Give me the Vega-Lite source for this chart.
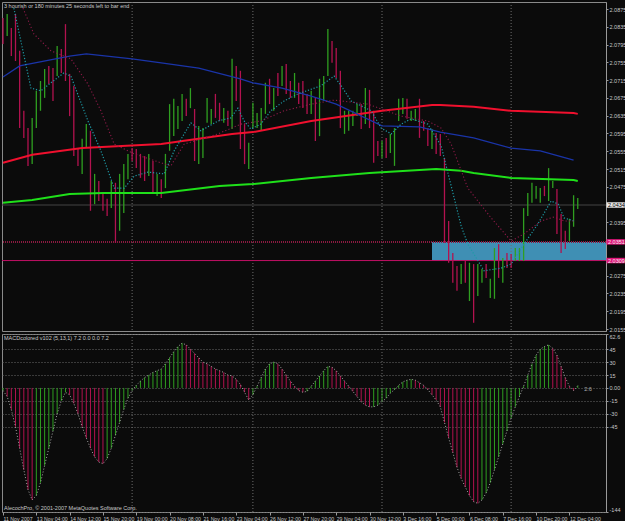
{
"$schema": "https://vega.github.io/schema/vega-lite/v6.json",
"background": "#0b0b0b",
"padding": 1,
"autosize": {"type": "pad"},
"spacing": 3,
"bounds": "flush",
"config": {
  "view": {"stroke": "#8a8a8a", "strokeWidth": 1},
  "axis": {"labelOverlap": false, "labelSeparation": 0}
},
"datasets": {
  "one": [{}],
  "bars": [
{"i":0,"h":2.0855,"l":2.0796,"u":0},{"i":1,"h":2.0864,"l":2.0814,"u":1},{"i":2,"h":2.0832,"l":2.0769,"u":0},{"i":3,"h":2.0864,"l":2.0758,"u":0},{"i":4,"h":2.0781,"l":2.0607,"u":0},{"i":5,"h":2.0646,"l":2.0585,"u":0},{"i":6,"h":2.0607,"l":2.0522,"u":0},{"i":7,"h":2.0630,"l":2.0526,"u":1},{"i":8,"h":2.0691,"l":2.0607,"u":1},{"i":9,"h":2.0713,"l":2.0646,"u":1},
{"i":10,"h":2.0740,"l":2.0675,"u":1},{"i":11,"h":2.0747,"l":2.0706,"u":0},{"i":12,"h":2.0742,"l":2.0668,"u":0},{"i":13,"h":2.0792,"l":2.0724,"u":1},{"i":14,"h":2.0785,"l":2.0731,"u":0},{"i":15,"h":2.0841,"l":2.0713,"u":0},{"i":16,"h":2.0729,"l":2.0634,"u":0},{"i":17,"h":2.0702,"l":2.0544,"u":0},{"i":18,"h":2.0562,"l":2.0522,"u":0},{"i":19,"h":2.0583,"l":2.0504,"u":1},
{"i":20,"h":2.0616,"l":2.0562,"u":1},{"i":21,"h":2.0601,"l":2.0421,"u":0},{"i":22,"h":2.0504,"l":2.0436,"u":1},{"i":23,"h":2.0488,"l":2.0443,"u":0},{"i":24,"h":2.0459,"l":2.0421,"u":0},{"i":25,"h":2.0448,"l":2.0409,"u":0},{"i":26,"h":2.0488,"l":2.0427,"u":1},{"i":27,"h":2.0484,"l":2.0349,"u":0},{"i":28,"h":2.0504,"l":2.0376,"u":1},{"i":29,"h":2.0526,"l":2.0416,"u":1},
{"i":30,"h":2.0549,"l":2.0492,"u":1},{"i":31,"h":2.0562,"l":2.0533,"u":0},{"i":32,"h":2.0560,"l":2.0517,"u":0},{"i":33,"h":2.0549,"l":2.0495,"u":0},{"i":34,"h":2.0544,"l":2.0488,"u":0},{"i":35,"h":2.0549,"l":2.0499,"u":1},{"i":36,"h":2.0533,"l":2.0459,"u":0},{"i":37,"h":2.0504,"l":2.0454,"u":1},{"i":38,"h":2.0492,"l":2.0450,"u":0},{"i":39,"h":2.0549,"l":2.0472,"u":1},
{"i":40,"h":2.0661,"l":2.0556,"u":1},{"i":41,"h":2.0673,"l":2.0589,"u":1},{"i":42,"h":2.0657,"l":2.0605,"u":1},{"i":43,"h":2.0684,"l":2.0623,"u":1},{"i":44,"h":2.0673,"l":2.0634,"u":0},{"i":45,"h":2.0697,"l":2.0652,"u":1},{"i":46,"h":2.0650,"l":2.0533,"u":0},{"i":47,"h":2.0612,"l":2.0526,"u":1},{"i":48,"h":2.0607,"l":2.0540,"u":1},{"i":49,"h":2.0675,"l":2.0619,"u":1},
{"i":50,"h":2.0650,"l":2.0616,"u":1},{"i":51,"h":2.0684,"l":2.0630,"u":0},{"i":52,"h":2.0664,"l":2.0623,"u":0},{"i":53,"h":2.0652,"l":2.0619,"u":1},{"i":54,"h":2.0646,"l":2.0612,"u":0},{"i":55,"h":2.0763,"l":2.0605,"u":1},{"i":56,"h":2.0747,"l":2.0668,"u":0},{"i":57,"h":2.0736,"l":2.0560,"u":0},{"i":58,"h":2.0616,"l":2.0526,"u":0},{"i":59,"h":2.0574,"l":2.0515,"u":1},
{"i":60,"h":2.0664,"l":2.0607,"u":1},{"i":61,"h":2.0641,"l":2.0607,"u":1},{"i":62,"h":2.0652,"l":2.0601,"u":1},{"i":63,"h":2.0709,"l":2.0639,"u":1},{"i":64,"h":2.0718,"l":2.0661,"u":0},{"i":65,"h":2.0697,"l":2.0646,"u":1},{"i":66,"h":2.0731,"l":2.0679,"u":0},{"i":67,"h":2.0747,"l":2.0702,"u":1},{"i":68,"h":2.0751,"l":2.0684,"u":0},{"i":69,"h":2.0713,"l":2.0675,"u":0},
{"i":70,"h":2.0731,"l":2.0675,"u":1},{"i":71,"h":2.0709,"l":2.0661,"u":0},{"i":72,"h":2.0713,"l":2.0652,"u":0},{"i":73,"h":2.0684,"l":2.0639,"u":0},{"i":74,"h":2.0691,"l":2.0639,"u":1},{"i":75,"h":2.0675,"l":2.0578,"u":0},{"i":76,"h":2.0718,"l":2.0589,"u":1},{"i":77,"h":2.0724,"l":2.0668,"u":1},{"i":78,"h":2.0830,"l":2.0724,"u":1},{"i":79,"h":2.0803,"l":2.0754,"u":0},
{"i":80,"h":2.0787,"l":2.0720,"u":0},{"i":81,"h":2.0736,"l":2.0607,"u":0},{"i":82,"h":2.0646,"l":2.0594,"u":1},{"i":83,"h":2.0646,"l":2.0601,"u":1},{"i":84,"h":2.0646,"l":2.0612,"u":1},{"i":85,"h":2.0661,"l":2.0634,"u":1},{"i":86,"h":2.0661,"l":2.0605,"u":0},{"i":87,"h":2.0697,"l":2.0616,"u":1},{"i":88,"h":2.0693,"l":2.0607,"u":0},{"i":89,"h":2.0646,"l":2.0529,"u":0},
{"i":90,"h":2.0578,"l":2.0544,"u":0},{"i":91,"h":2.0578,"l":2.0540,"u":1},{"i":92,"h":2.0585,"l":2.0540,"u":0},{"i":93,"h":2.0594,"l":2.0551,"u":1},{"i":94,"h":2.0607,"l":2.0522,"u":1},{"i":95,"h":2.0673,"l":2.0623,"u":1},{"i":96,"h":2.0675,"l":2.0639,"u":1},{"i":97,"h":2.0673,"l":2.0628,"u":0},{"i":98,"h":2.0646,"l":2.0623,"u":1},{"i":99,"h":2.0650,"l":2.0623,"u":1},
{"i":100,"h":2.0673,"l":2.0585,"u":0},{"i":101,"h":2.0623,"l":2.0601,"u":0},{"i":102,"h":2.0607,"l":2.0567,"u":0},{"i":103,"h":2.0605,"l":2.0560,"u":1},{"i":104,"h":2.0596,"l":2.0549,"u":0},{"i":105,"h":2.0594,"l":2.0544,"u":0},{"i":106,"h":2.0540,"l":2.0349,"u":0},{"i":107,"h":2.0398,"l":2.0304,"u":0},{"i":108,"h":2.0326,"l":2.0259,"u":0},{"i":109,"h":2.0297,"l":2.0241,"u":0},
{"i":110,"h":2.0301,"l":2.0256,"u":1},{"i":111,"h":2.0308,"l":2.0259,"u":0},{"i":112,"h":2.0304,"l":2.0218,"u":1},{"i":113,"h":2.0301,"l":2.0169,"u":0},{"i":114,"h":2.0301,"l":2.0229,"u":1},{"i":115,"h":2.0290,"l":2.0259,"u":1},{"i":116,"h":2.0301,"l":2.0270,"u":0},{"i":117,"h":2.0268,"l":2.0225,"u":1},{"i":118,"h":2.0337,"l":2.0223,"u":1},{"i":119,"h":2.0346,"l":2.0270,"u":0},
{"i":120,"h":2.0315,"l":2.0259,"u":1},{"i":121,"h":2.0326,"l":2.0292,"u":0},{"i":122,"h":2.0324,"l":2.0292,"u":0},{"i":123,"h":2.0337,"l":2.0308,"u":1},{"i":124,"h":2.0337,"l":2.0308,"u":1},{"i":125,"h":2.0427,"l":2.0308,"u":1},{"i":126,"h":2.0461,"l":2.0409,"u":1},{"i":127,"h":2.0484,"l":2.0439,"u":1},{"i":128,"h":2.0477,"l":2.0448,"u":1},{"i":129,"h":2.0472,"l":2.0439,"u":1},
{"i":130,"h":2.0477,"l":2.0454,"u":0},{"i":131,"h":2.0517,"l":2.0443,"u":1},{"i":132,"h":2.0488,"l":2.0472,"u":1},{"i":133,"h":2.0470,"l":2.0369,"u":0},{"i":134,"h":2.0414,"l":2.0326,"u":0},{"i":135,"h":2.0376,"l":2.0335,"u":0},{"i":136,"h":2.0403,"l":2.0353,"u":1},{"i":137,"h":2.0456,"l":2.0385,"u":1},{"i":138,"h":2.0450,"l":2.0425,"u":1}
  ],
  "ma": [
{"s":"red","i":0,"p":2.0529},{"s":"red","i":7,"p":2.0547},{"s":"red","i":19,"p":2.0562},{"s":"red","i":38,"p":2.0571},{"s":"red","i":55,"p":2.0594},{"s":"red","i":60,"p":2.0598},{"s":"red","i":74,"p":2.0623},{"s":"red","i":79,"p":2.0630},{"s":"red","i":91,"p":2.0646},{"s":"red","i":103,"p":2.0659},{"s":"red","i":105,"p":2.0659},{"s":"red","i":113,"p":2.0655},{"s":"red","i":122,"p":2.0646},{"s":"red","i":137,"p":2.0641},{"s":"red","i":138,"p":2.0639},
{"s":"blue","i":0,"p":2.0722},{"s":"blue","i":4,"p":2.0747},{"s":"blue","i":16,"p":2.0769},{"s":"blue","i":20,"p":2.0774},{"s":"blue","i":31,"p":2.0763},{"s":"blue","i":38,"p":2.0754},{"s":"blue","i":47,"p":2.0742},{"s":"blue","i":57,"p":2.0718},{"s":"blue","i":60,"p":2.0709},{"s":"blue","i":67,"p":2.0697},{"s":"blue","i":74,"p":2.0679},{"s":"blue","i":80,"p":2.0661},{"s":"blue","i":91,"p":2.0612},{"s":"blue","i":100,"p":2.0610},{"s":"blue","i":105,"p":2.0598},{"s":"blue","i":113,"p":2.0585},{"s":"blue","i":122,"p":2.0562},{"s":"blue","i":129,"p":2.0556},{"s":"blue","i":137,"p":2.0535},
{"s":"green","i":0,"p":2.0439},{"s":"green","i":7,"p":2.0445},{"s":"green","i":16,"p":2.0459},{"s":"green","i":24,"p":2.0461},{"s":"green","i":38,"p":2.0461},{"s":"green","i":52,"p":2.0477},{"s":"green","i":60,"p":2.0481},{"s":"green","i":74,"p":2.0495},{"s":"green","i":88,"p":2.0506},{"s":"green","i":104,"p":2.0515},{"s":"green","i":110,"p":2.0511},{"s":"green","i":113,"p":2.0506},{"s":"green","i":122,"p":2.0495},{"s":"green","i":137,"p":2.0490},{"s":"green","i":138,"p":2.0488},
{"s":"teal","i":2.6,"p":2.0877},{"s":"teal","i":6.7,"p":2.0697},{"s":"teal","i":9.1,"p":2.0691},{"s":"teal","i":11.5,"p":2.0709},{"s":"teal","i":14.6,"p":2.0731},{"s":"teal","i":16.3,"p":2.0724},{"s":"teal","i":20.4,"p":2.0623},{"s":"teal","i":23.5,"p":2.0556},{"s":"teal","i":26.7,"p":2.0472},{"s":"teal","i":29.1,"p":2.0472},{"s":"teal","i":31.5,"p":2.0499},{"s":"teal","i":34.8,"p":2.0508},{"s":"teal","i":38.7,"p":2.0504},{"s":"teal","i":41.1,"p":2.0556},{"s":"teal","i":45.1,"p":2.0619},{"s":"teal","i":47.5,"p":2.0601},{"s":"teal","i":51.6,"p":2.0623},{"s":"teal","i":54.7,"p":2.0630},{"s":"teal","i":56.4,"p":2.0652},{"s":"teal","i":57.9,"p":2.0623},{"s":"teal","i":59.5,"p":2.0605},{"s":"teal","i":61.9,"p":2.0616},{"s":"teal","i":64.3,"p":2.0646},{"s":"teal","i":67.5,"p":2.0668},{"s":"teal","i":70.8,"p":2.0684},{"s":"teal","i":76.3,"p":2.0702},{"s":"teal","i":79.5,"p":2.0724},{"s":"teal","i":81.2,"p":2.0702},{"s":"teal","i":83.6,"p":2.0668},{"s":"teal","i":88.4,"p":2.0646},{"s":"teal","i":90.8,"p":2.0607},{"s":"teal","i":93.2,"p":2.0594},{"s":"teal","i":95.6,"p":2.0616},{"s":"teal","i":98,"p":2.0628},{"s":"teal","i":102,"p":2.0616},{"s":"teal","i":105.2,"p":2.0567},{"s":"teal","i":107.6,"p":2.0477},{"s":"teal","i":110,"p":2.0387},{"s":"teal","i":111.6,"p":2.0346},{"s":"teal","i":115.5,"p":2.0286},{"s":"teal","i":119.6,"p":2.0292},{"s":"teal","i":122,"p":2.0301},{"s":"teal","i":125.1,"p":2.0346},{"s":"teal","i":128.4,"p":2.0391},{"s":"teal","i":131.6,"p":2.0443},{"s":"teal","i":133.3,"p":2.0436},{"s":"teal","i":134.7,"p":2.0405},{"s":"teal","i":137.1,"p":2.0398},
{"s":"maroon","i":4.8,"p":2.0877},{"s":"maroon","i":7.4,"p":2.0819},{"s":"maroon","i":11.5,"p":2.0781},{"s":"maroon","i":16.3,"p":2.0763},{"s":"maroon","i":20.4,"p":2.0706},{"s":"maroon","i":23.5,"p":2.0646},{"s":"maroon","i":26.7,"p":2.0571},{"s":"maroon","i":31.5,"p":2.0549},{"s":"maroon","i":37.9,"p":2.0529},{"s":"maroon","i":40.3,"p":2.0522},{"s":"maroon","i":43.5,"p":2.0571},{"s":"maroon","i":51.6,"p":2.0594},{"s":"maroon","i":57.1,"p":2.0616},{"s":"maroon","i":61.9,"p":2.0623},{"s":"maroon","i":67.5,"p":2.0646},{"s":"maroon","i":74,"p":2.0661},{"s":"maroon","i":79.5,"p":2.0670},{"s":"maroon","i":87.6,"p":2.0661},{"s":"maroon","i":95.6,"p":2.0634},{"s":"maroon","i":102,"p":2.0623},{"s":"maroon","i":105.2,"p":2.0607},{"s":"maroon","i":107.6,"p":2.0571},{"s":"maroon","i":111.6,"p":2.0472},{"s":"maroon","i":117.2,"p":2.0405},{"s":"maroon","i":122,"p":2.0353},{"s":"maroon","i":125.1,"p":2.0369},{"s":"maroon","i":129.2,"p":2.0398},{"s":"maroon","i":132.3,"p":2.0407},{"s":"maroon","i":134.7,"p":2.0398},{"s":"maroon","i":137.1,"p":2.0398}
  ],
  "macd": [
{"i":0,"v":-3},{"i":1,"v":-10},{"i":2,"v":-25},{"i":3,"v":-45},{"i":4,"v":-70},{"i":5,"v":-95},{"i":6,"v":-118},{"i":7,"v":-130},{"i":8,"v":-125},{"i":9,"v":-110},{"i":10,"v":-90},{"i":11,"v":-70},{"i":12,"v":-50},{"i":13,"v":-30},{"i":14,"v":-15},{"i":15,"v":-5},
{"i":16,"v":-8},{"i":17,"v":-18},{"i":18,"v":-30},{"i":19,"v":-45},{"i":20,"v":-58},{"i":21,"v":-70},{"i":22,"v":-80},{"i":23,"v":-86},{"i":24,"v":-88},{"i":25,"v":-82},{"i":26,"v":-70},{"i":27,"v":-55},{"i":28,"v":-40},{"i":29,"v":-25},{"i":30,"v":-12},{"i":31,"v":-3},
{"i":32,"v":3},{"i":33,"v":8},{"i":34,"v":12},{"i":35,"v":15},{"i":36,"v":18},{"i":37,"v":20},{"i":38,"v":22},{"i":39,"v":28},{"i":40,"v":35},{"i":41,"v":42},{"i":42,"v":48},{"i":43,"v":52},{"i":44,"v":50},{"i":45,"v":45},{"i":46,"v":40},{"i":47,"v":35},{"i":48,"v":30},{"i":49,"v":28},{"i":50,"v":25},{"i":51,"v":22},{"i":52,"v":20},{"i":53,"v":18},{"i":54,"v":15},{"i":55,"v":14},{"i":56,"v":10},{"i":57,"v":4},{"i":58,"v":-5},{"i":59,"v":-14},{"i":60,"v":-8},
{"i":61,"v":2},{"i":62,"v":12},{"i":63,"v":22},{"i":64,"v":28},{"i":65,"v":30},{"i":66,"v":28},{"i":67,"v":22},{"i":68,"v":15},{"i":69,"v":8},{"i":70,"v":2},{"i":71,"v":-3},{"i":72,"v":-5},{"i":73,"v":-4},{"i":74,"v":2},{"i":75,"v":8},{"i":76,"v":14},{"i":77,"v":20},{"i":78,"v":25},{"i":79,"v":24},{"i":80,"v":20},
{"i":81,"v":14},{"i":82,"v":8},{"i":83,"v":2},{"i":84,"v":-4},{"i":85,"v":-10},{"i":86,"v":-16},{"i":87,"v":-20},{"i":88,"v":-22},{"i":89,"v":-22},{"i":90,"v":-20},{"i":91,"v":-16},{"i":92,"v":-12},{"i":93,"v":-6},{"i":94,"v":-2},{"i":95,"v":3},{"i":96,"v":7},{"i":97,"v":9},{"i":98,"v":10},{"i":99,"v":9},{"i":100,"v":6},
{"i":101,"v":3},{"i":102,"v":-2},{"i":103,"v":-8},{"i":104,"v":-14},{"i":105,"v":-22},{"i":106,"v":-40},{"i":107,"v":-58},{"i":108,"v":-75},{"i":109,"v":-92},{"i":110,"v":-105},{"i":111,"v":-115},{"i":112,"v":-125},{"i":113,"v":-132},{"i":114,"v":-134},{"i":115,"v":-130},
{"i":116,"v":-122},{"i":117,"v":-110},{"i":118,"v":-95},{"i":119,"v":-80},{"i":120,"v":-65},{"i":121,"v":-50},{"i":122,"v":-35},{"i":123,"v":-22},{"i":124,"v":-10},{"i":125,"v":2},{"i":126,"v":15},{"i":127,"v":28},{"i":128,"v":38},{"i":129,"v":45},{"i":130,"v":48},{"i":131,"v":50},{"i":132,"v":46},{"i":133,"v":38},{"i":134,"v":25},{"i":135,"v":12},{"i":136,"v":2},{"i":137,"v":-3},{"i":138,"v":2.6}
  ],
  "seps": [{"i":31},{"i":60},{"i":91},{"i":122}],
  "tags": [
    {"p":2.0434,"t":"2.0434","k":"cur"},
    {"p":2.0351,"t":"2.0351","k":"lvl"},
    {"p":2.0309,"t":"2.0309","k":"lvl"}
  ],
  "box": [{"i1":103,"i2":144.78,"p1":2.0351,"p2":2.0309}]
},
"vconcat": [
  {
    "width": 604, "height": 329,
    "layer": [
      {"data": {"name": "box"}, "mark": {"type": "rect", "color": "#3f8fb4", "clip": true},
       "encoding": {
         "x": {"field": "i1", "type": "quantitative", "scale": {"domain": [-0.24, 144.78], "nice": false, "zero": false}, "axis": null},
         "x2": {"field": "i2"},
         "y": {"field": "p1", "type": "quantitative", "scale": {"domain": [2.01505, 2.089075], "nice": false, "zero": false},
               "axis": {"orient": "right", "title": null, "grid": false, "labelOverlap": false, "tickCount": 60, "values": [2.0875, 2.0835, 2.0795, 2.0755, 2.0715, 2.0675, 2.0635, 2.0595, 2.0555, 2.0515, 2.0475, 2.0395, 2.0275, 2.0235, 2.0195, 2.0155], "format": ".4f",
                        "labelFont": "Liberation Sans", "labelFontSize": 5.5, "labelColor": "#c8c8c8", "labelPadding": 1, "tickSize": 2, "tickColor": "#9a9a9a", "domainColor": "#9a9a9a"}},
         "y2": {"field": "p2"}}},
      {"data": {"name": "seps"}, "mark": {"type": "rule", "color": "#6e6e6e", "strokeDash": [1, 2], "strokeWidth": 1, "clip": true},
       "encoding": {"x": {"field": "i", "type": "quantitative", "axis": null}}},
      {"data": {"name": "one"}, "mark": {"type": "rule", "color": "#444444", "strokeWidth": 1, "clip": true}, "encoding": {"y": {"datum": 2.0434, "type": "quantitative"}}},
      {"data": {"name": "one"}, "mark": {"type": "rule", "color": "#8a1a40", "strokeWidth": 2, "strokeDash": [1, 1], "clip": true}, "encoding": {"y": {"datum": 2.0351, "type": "quantitative"}}},
      {"data": {"name": "one"}, "mark": {"type": "rule", "color": "#c01064", "strokeWidth": 1, "clip": true}, "encoding": {"y": {"datum": 2.0309, "type": "quantitative"}}},
      {"data": {"name": "bars"}, "mark": {"type": "rule", "strokeWidth": 1.3, "clip": true},
       "encoding": {
         "x": {"field": "i", "type": "quantitative", "axis": null},
         "y": {"field": "h", "type": "quantitative"},
         "y2": {"field": "l"},
         "color": {"condition": {"test": "datum.u == 1", "value": "#2f9f20"}, "value": "#b3124f"}
       }},
      {"data": {"name": "ma"}, "transform": [{"filter": "datum.s == 'green'"}], "mark": {"type": "line", "color": "#1fe01a", "strokeWidth": 2, "clip": true},
       "encoding": {"x": {"field": "i", "type": "quantitative", "axis": null}, "y": {"field": "p", "type": "quantitative"}}},
      {"data": {"name": "ma"}, "transform": [{"filter": "datum.s == 'red'"}], "mark": {"type": "line", "color": "#f0102e", "strokeWidth": 2, "clip": true},
       "encoding": {"x": {"field": "i", "type": "quantitative", "axis": null}, "y": {"field": "p", "type": "quantitative"}}},
      {"data": {"name": "ma"}, "transform": [{"filter": "datum.s == 'blue'"}], "mark": {"type": "line", "color": "#1a34a8", "strokeWidth": 1.3, "clip": true},
       "encoding": {"x": {"field": "i", "type": "quantitative", "axis": null}, "y": {"field": "p", "type": "quantitative"}}},
      {"data": {"name": "ma"}, "transform": [{"filter": "datum.s == 'teal'"}], "mark": {"type": "line", "color": "#1e9aa6", "strokeWidth": 1.2, "strokeDash": [1.2, 1.8], "clip": true},
       "encoding": {"x": {"field": "i", "type": "quantitative", "axis": null}, "y": {"field": "p", "type": "quantitative"}}},
      {"data": {"name": "ma"}, "transform": [{"filter": "datum.s == 'maroon'"}], "mark": {"type": "line", "color": "#8e1a48", "strokeWidth": 1.1, "strokeDash": [1.2, 2.2], "clip": true},
       "encoding": {"x": {"field": "i", "type": "quantitative", "axis": null}, "y": {"field": "p", "type": "quantitative"}}},
      {"data": {"name": "tags"}, "mark": {"type": "rect", "height": 5.5},
       "encoding": {"x": {"datum": 144.9, "type": "quantitative", "axis": null}, "x2": {"datum": 149.3}, "y": {"field": "p", "type": "quantitative"},
                    "color": {"condition": {"test": "datum.k == 'cur'", "value": "#e6e6e6"}, "value": "#e0167a"}}},
      {"data": {"name": "tags"}, "mark": {"type": "text", "font": "Liberation Sans", "fontSize": 5.5, "align": "left", "baseline": "middle", "dx": 1.5},
       "encoding": {"x": {"datum": 144.9, "type": "quantitative", "axis": null}, "y": {"field": "p", "type": "quantitative"}, "text": {"field": "t"},
                    "color": {"condition": {"test": "datum.k == 'cur'", "value": "#000000"}, "value": "#f0f0f0"}}},
      {"data": {"name": "one"}, "mark": {"type": "text", "font": "Liberation Sans", "fontSize": 5.5, "align": "left", "baseline": "top", "dx": 1, "dy": 2, "color": "#c8c8c8"},
       "encoding": {"x": {"datum": 0, "type": "quantitative", "axis": null}, "y": {"datum": 2.089075, "type": "quantitative"}, "text": {"value": "3 hourish or 180 minutes 25 seconds left to bar end"}}}
    ]
  },
  {
    "width": 604, "height": 178,
    "layer": [
      {"data": {"name": "macd"}, "transform": [{"window": [{"op": "lag", "field": "v", "as": "pv"}], "sort": [{"field": "i"}]}],
       "mark": {"type": "rule", "strokeWidth": 1, "clip": true},
       "encoding": {
         "x": {"field": "i", "type": "quantitative", "scale": {"domain": [-0.24, 144.78], "nice": false, "zero": false},
           "axis": {"orient": "bottom", "title": null, "grid": false, "domain": false, "tickCount": 60, "values": [0, 8, 16, 24, 32, 40, 48, 56, 64, 72, 80, 88, 96, 104, 112, 120, 128, 136],
             "tickSize": 3, "tickColor": "#9a9a9a", "labelAlign": "left", "labelBaseline": "top", "labelPadding": 1, "labelFlush": false, "labelOverlap": false,
             "labelFont": "Liberation Sans", "labelFontSize": 5.2, "labelColor": "#c8c8c8",
             "labelExpr": "['11 Nov 2007','13 Nov 04:00','14 Nov 12:00','15 Nov 20:00','19 Nov 00:00','20 Nov 08:00','21 Nov 16:00','23 Nov 04:00','26 Nov 12:00','27 Nov 20:00','29 Nov 04:00','30 Nov 12:00','3 Dec 16:00','5 Dec 00:00','6 Dec 08:00','7 Dec 16:00','10 Dec 20:00','12 Dec 04:00'][round(datum.value/8)]"}},
         "y": {"field": "v", "type": "quantitative", "scale": {"domain": [-144, 62.6], "nice": false, "zero": false},
               "axis": {"orient": "right", "title": null, "tickCount": 60, "values": [62.6, 45, 30, 15, 0, -15, -30, -45, -144], "grid": true, "gridDash": [1, 2], "gridColor": "#6a6a6a",
                        "labelFlush": true, "labelOverlap": false,
                        "labelFont": "Liberation Sans", "labelFontSize": 5.5, "labelColor": "#c8c8c8", "labelPadding": 1, "tickSize": 2, "tickColor": "#9a9a9a", "domainColor": "#9a9a9a",
                        "labelExpr": "datum.value == 0 ? '0.00' : '' + datum.value"}},
         "y2": {"datum": 0},
         "color": {"condition": {"test": "datum.pv == null || datum.v >= datum.pv", "value": "#2f9f20"}, "value": "#b3124f"}
       }},
      {"data": {"name": "seps"}, "mark": {"type": "rule", "color": "#6e6e6e", "strokeDash": [1, 2], "strokeWidth": 1, "clip": true},
       "encoding": {"x": {"field": "i", "type": "quantitative"}}},
      {"data": {"name": "macd"}, "mark": {"type": "line", "color": "#a8a8a8", "strokeWidth": 1, "strokeDash": [1, 2], "clip": true},
       "encoding": {"x": {"field": "i", "type": "quantitative"}, "y": {"field": "v", "type": "quantitative"}}},
      {"data": {"name": "one"}, "mark": {"type": "text", "font": "Liberation Sans", "fontSize": 5.5, "align": "left", "baseline": "top", "dx": 1, "dy": 2, "color": "#c8c8c8"},
       "encoding": {"x": {"datum": 0, "type": "quantitative"}, "y": {"datum": 62.6, "type": "quantitative"}, "text": {"value": "MACDcolored v102 (5,13,1) 7.2 0.0 0.0 7.2"}}},
      {"data": {"name": "one"}, "mark": {"type": "text", "font": "Liberation Sans", "fontSize": 5.5, "align": "left", "baseline": "bottom", "dx": 1, "dy": -1, "color": "#c8c8c8"},
       "encoding": {"x": {"datum": 0, "type": "quantitative"}, "y": {"datum": -144, "type": "quantitative"}, "text": {"value": "AlecochPro, © 2001-2007 MetaQuotes Software Corp."}}},
      {"data": {"name": "one"}, "mark": {"type": "text", "font": "Liberation Sans", "fontSize": 5.5, "align": "left", "baseline": "middle", "dx": 1, "color": "#b0b0b0"},
       "encoding": {"x": {"datum": 139.3, "type": "quantitative"}, "y": {"datum": -1, "type": "quantitative"}, "text": {"value": "2.6"}}}
    ]
  }
]
}
